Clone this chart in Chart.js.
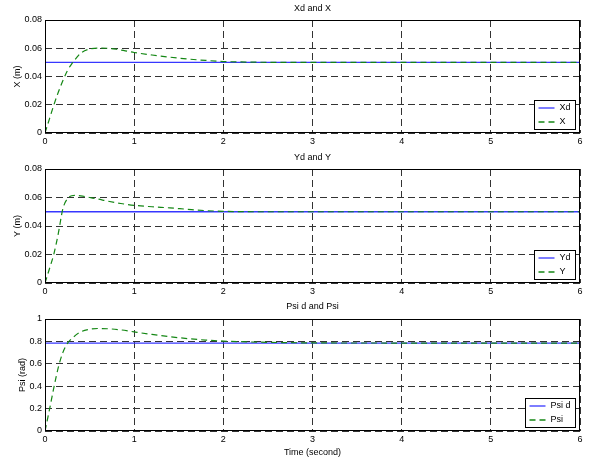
<!DOCTYPE html>
<html lang="en">
<head>
<meta charset="UTF-8">
<title>Xd and X, Yd and Y, Psi d and Psi</title>
<style>
  body { margin: 0; background: #fff; }
  #wrap { position: relative; width: 590px; height: 463px; }
  #wrap canvas { position: absolute; left: 0; }
</style>
<script src="https://cdn.jsdelivr.net/npm/chart.js"></script>
</head>
<body>
<div id="wrap">
  <canvas id="plotX" width="590" height="150" style="top:0"></canvas>
  <canvas id="plotY" width="590" height="150" style="top:150px"></canvas>
  <canvas id="plotPsi" width="590" height="163" style="top:300px"></canvas>
</div>
<script>
// time axis (seconds)
const timeTicks = [0, 1, 2, 3, 4, 5, 6];

// X position: reference and response
const tXd = [0, 6];
const xdVals = [0.05, 0.05];
const tX = [0, 0.05, 0.1, 0.15, 0.2, 0.25, 0.3, 0.35, 0.4, 0.5, 0.6, 0.7, 0.8, 0.9, 1.0, 1.2, 1.4, 1.6, 1.8, 2.0, 2.3, 2.7, 6];
const xVals = [0, 0.010, 0.020, 0.029, 0.037, 0.044, 0.049, 0.053, 0.0565, 0.0595, 0.0601, 0.0600, 0.0593, 0.0582, 0.0570, 0.0552, 0.0537, 0.0524, 0.0514, 0.0506, 0.0502, 0.0500, 0.0500];
const xTicks = [0, 0.02, 0.04, 0.06, 0.08];

// Y position: reference and response
const tYd = [0, 6];
const ydVals = [0.05, 0.05];
const tY = [0, 0.05, 0.1, 0.15, 0.2, 0.25, 0.3, 0.35, 0.4, 0.5, 0.6, 0.7, 0.85, 1.0, 1.2, 1.4, 1.6, 1.8, 2.0, 2.4, 6];
const yVals = [0, 0.010, 0.0205, 0.035, 0.052, 0.059, 0.0612, 0.0615, 0.0612, 0.0600, 0.0588, 0.0575, 0.0558, 0.0545, 0.0535, 0.0527, 0.0517, 0.0508, 0.0503, 0.0500, 0.0500];
const yTicks = [0, 0.02, 0.04, 0.06, 0.08];

// heading Psi: reference and response
const tPsid = [0, 6];
const psidVals = [0.785, 0.785];
const tPsi = [0, 0.05, 0.1, 0.15, 0.2, 0.25, 0.3, 0.4, 0.5, 0.6, 0.7, 0.85, 1.0, 1.2, 1.4, 1.6, 1.8, 2.0, 2.3, 2.7, 3.2, 6];
const psiVals = [0, 0.19, 0.39, 0.57, 0.70, 0.78, 0.825, 0.885, 0.908, 0.915, 0.913, 0.903, 0.885, 0.862, 0.842, 0.825, 0.812, 0.803, 0.795, 0.789, 0.786, 0.785];
const psiTicks = [0, 0.2, 0.4, 0.6, 0.8, 1];

const FONT = 'Liberation Sans, Arial, Helvetica, sans-serif';
const BLUE = 'rgb(55, 55, 255)';
const GREEN = 'rgb(20, 135, 20)';

const pts = (ts, vs) => ts.map((t, i) => ({ x: t, y: vs[i] }));

// MATLAB-like box round the axes plus a boxed legend in the lower right corner
const boxLegend = {
  id: 'boxLegend',
  afterDraw(chart) {
    const { ctx, chartArea: a } = chart;
    ctx.save();
    ctx.setLineDash([]);
    ctx.strokeStyle = '#000';
    ctx.lineWidth = 1;
    ctx.strokeRect(Math.round(a.left) + 0.5, Math.round(a.top) + 0.5,
      Math.round(a.right - a.left) - 1, Math.round(a.bottom - a.top) - 1);

    const items = chart.data.datasets;
    ctx.font = '9px ' + FONT;
    const tw = Math.max(...items.map(d => ctx.measureText(d.label).width));
    const w = Math.round(4 + 16 + 5 + tw + 5);
    const h = 29;
    const x0 = Math.round(a.right - 5 - w) + 0.5;
    const y0 = Math.round(a.bottom - 4 - h) + 0.5;
    ctx.fillStyle = '#fff';
    ctx.fillRect(x0, y0, w, h);
    ctx.strokeStyle = '#000';
    ctx.strokeRect(x0, y0, w, h);
    items.forEach((d, i) => {
      const cy = Math.round(y0 + 7.5 + i * 13.5);
      ctx.strokeStyle = d.borderColor;
      ctx.lineWidth = 1.3;
      ctx.setLineDash(d.borderDash || []);
      ctx.beginPath();
      ctx.moveTo(x0 + 4, cy);
      ctx.lineTo(x0 + 20, cy);
      ctx.stroke();
      ctx.fillStyle = '#000';
      ctx.textBaseline = 'middle';
      ctx.fillText(d.label, x0 + 25, cy);
    });
    ctx.restore();
  }
};

function makePlot(id, opts) {
  const ctx = document.getElementById(id).getContext('2d');
  return new Chart(ctx, {
    type: 'line',
    data: {
      datasets: [{
        label: opts.refLabel,
        data: pts(opts.tRef, opts.ref),
        borderColor: BLUE,
        borderWidth: 1.3,
        pointRadius: 0,
        order: 2
      }, {
        label: opts.label,
        data: pts(opts.t, opts.vals),
        borderColor: GREEN,
        borderWidth: 1.2,
        borderDash: [6, 4],
        pointRadius: 0,
        tension: 0.4,
        cubicInterpolationMode: 'monotone',
        order: 1
      }]
    },
    options: {
      responsive: false,
      animation: false,
      events: [],
      layout: { padding: { left: 0, right: 10, top: 0, bottom: 0 } },
      scales: {
        x: {
          type: 'linear',
          min: 0,
          max: 6,
          afterBuildTicks: s => { s.ticks = timeTicks.map(v => ({ value: v })); },
          afterFit: s => { s.height = opts.xHeight; },
          ticks: { color: '#000', font: { family: FONT, size: 9 }, padding: 3, maxRotation: 0, autoSkip: false,
                   callback: v => String(v) },
          grid: { color: '#333', lineWidth: 1, drawTicks: false },
          border: { display: false, dash: [7, 4] },
          title: {
            display: !!opts.xTitle,
            text: opts.xTitle || '',
            color: '#000',
            font: { family: FONT, size: 9 },
            padding: { top: 0, bottom: 5 }
          }
        },
        y: {
          min: opts.yTicks[0],
          max: opts.yTicks[opts.yTicks.length - 1],
          afterBuildTicks: s => { s.ticks = opts.yTicks.map(v => ({ value: v })); },
          afterFit: s => { s.width = 45; },
          ticks: { color: '#000', font: { family: FONT, size: 9 }, padding: 3, callback: v => String(v) },
          grid: { color: '#333', lineWidth: 1, drawTicks: false },
          border: { display: false, dash: [7, 4] },
          title: {
            display: true,
            text: opts.yTitle,
            color: '#000',
            font: { family: FONT, size: 9 },
            padding: { top: opts.yTitlePad, bottom: 0 }
          }
        }
      },
      plugins: {
        legend: { display: false },
        tooltip: { enabled: false },
        title: {
          display: true,
          text: opts.title,
          color: '#000',
          fullSize: false,
          font: { family: FONT, size: 9, weight: 'normal', lineHeight: 12 / 9 },
          padding: opts.titlePad
        }
      }
    },
    plugins: [boxLegend]
  });
}

makePlot('plotX', {
  title: 'Xd and X', refLabel: 'Xd', label: 'X', yTitle: 'X (m)', yTitlePad: 12,
  tRef: tXd, ref: xdVals, t: tX, vals: xVals, yTicks: xTicks,
  xHeight: 17, titlePad: { top: 3, bottom: 5 }
});
makePlot('plotY', {
  title: 'Yd and Y', refLabel: 'Yd', label: 'Y', yTitle: 'Y (m)', yTitlePad: 12,
  tRef: tYd, ref: ydVals, t: tY, vals: yVals, yTicks: yTicks,
  xHeight: 17, titlePad: { top: 2, bottom: 5 }
});
makePlot('plotPsi', {
  title: 'Psi d and Psi', refLabel: 'Psi d', label: 'Psi', yTitle: 'Psi (rad)', yTitlePad: 17,
  tRef: tPsid, ref: psidVals, t: tPsi, vals: psiVals, yTicks: psiTicks,
  xHeight: 32, xTitle: 'Time (second)', titlePad: { top: 1, bottom: 6 }
});
</script>
</body>
</html>
